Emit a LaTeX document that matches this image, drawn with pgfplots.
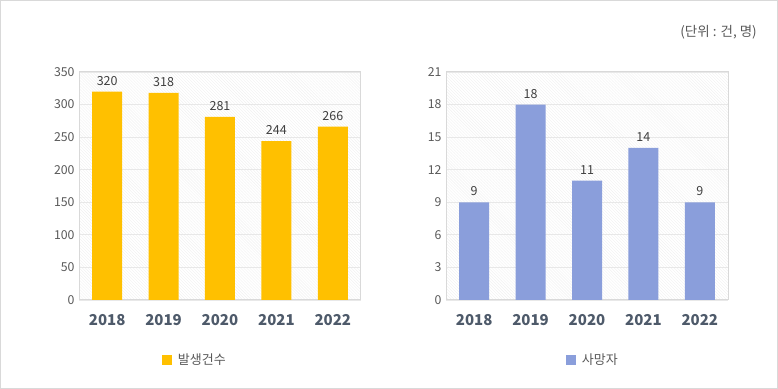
\documentclass[border=0pt]{standalone}
\usepackage{pgfplots}
\pgfplotsset{compat=1.18}
\usepackage{fontspec}
\setmainfont{Noto Sans CJK KR}
\usetikzlibrary{patterns}
\definecolor{barY}{HTML}{FFC000}
\definecolor{barB}{HTML}{8A9EDB}
\definecolor{gridc}{HTML}{E8E8E8}
\definecolor{framec}{HTML}{D9D9D9}
\definecolor{tickc}{HTML}{595959}
\definecolor{xlab}{HTML}{4E5A6A}
\definecolor{hatch}{HTML}{F0F0F0}
\definecolor{valc}{HTML}{404040}
\pgfplotsset{mystyle/.style={
  scale only axis, width=282bp, height=228bp,
  xmin=-0.5, xmax=4.5, ymin=0,
  xtick={0,...,4}, xticklabels={2018,2019,2020,2021,2022},
  xtick style={draw=none}, ytick style={draw=none},
  ymajorgrids, grid style={gridc, line width=0.8bp},
  axis line style={framec, line width=1bp},
  axis background/.style={pattern=north west lines, pattern color=hatch},
  ybar, bar width=30bp,
  /pgf/number format/assume math mode=true,
  yticklabel style={font=\fontsize{12.3bp}{14bp}\selectfont, text=tickc, xshift=-1bp},
  xticklabel style={font=\fontsize{15bp}{18bp}\selectfont\bfseries, text=xlab, yshift=-7bp},
  nodes near coords,
  nodes near coords style={font=\fontsize{12.5bp}{14bp}\selectfont, text=valc, inner sep=0pt, yshift=6bp, anchor=south},
  legend style={draw=none, fill=none, font=\fontsize{13bp}{15bp}\selectfont, text=tickc, anchor=center, legend cell align=left},
  legend image code/.code={\fill[##1, draw=none] (-5bp,-5bp) rectangle (5bp,5bp);},
}}
\begin{document}
\begin{tikzpicture}
\useasboundingbox (0bp,0bp) rectangle (778bp,389bp);
\draw[framec, line width=1bp] (0.5bp,0.5bp) rectangle (777.5bp,388.5bp);
\node[anchor=east, font=\fontsize{13.5bp}{15bp}\selectfont, text=tickc, inner sep=0pt] at (757bp,357bp) {(단위 : 건, 명)};
\begin{axis}[mystyle, at={(79bp,89bp)}, anchor=south west, ymax=350, ytick={0,50,...,350},
  legend style={at={(0.411,-0.263)}}]
\addplot[fill=barY, draw=none] coordinates {(0,320) (1,318) (2,281) (3,244) (4,266)};
\addlegendentry{\hspace{4bp}발생건수}
\end{axis}
\begin{axis}[mystyle, at={(446bp,89bp)}, anchor=south west, ymax=21, ytick={0,3,...,21},
  legend style={at={(0.521,-0.263)}}]
\addplot[fill=barB, draw=none] coordinates {(0,9) (1,18) (2,11) (3,14) (4,9)};
\addlegendentry{\hspace{4bp}사망자}
\end{axis}
\end{tikzpicture}
\end{document}
